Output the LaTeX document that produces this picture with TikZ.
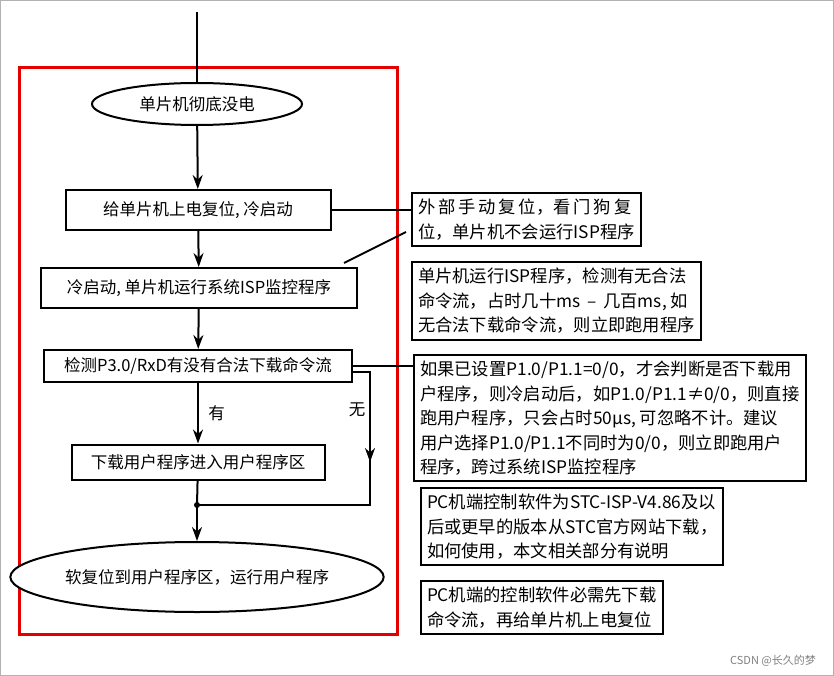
\documentclass[tikz,border=0pt]{standalone}
\usepackage{fontspec}
\setmainfont{Noto Sans CJK SC}
\usetikzlibrary{shapes.geometric,arrows.meta}
\tikzset{
  stepbox/.style={draw,line width=2pt,fill=white,inner sep=0pt,font=\fontsize{16.5}{20}\selectfont},
  notebox/.style={draw,line width=2pt,fill=white,align=left,anchor=north west,inner sep=6pt,font=\fontsize{17.3}{24.5}\selectfont},
  flow/.style={line width=2pt,-{Stealth[length=14pt,width=10pt]}},
  link/.style={line width=2pt}
}
\begin{document}
\begin{tikzpicture}[x=1pt,y=-1pt]
        \useasboundingbox (0,0) rectangle (834,676);
        \draw[gray!60] (0.5,0.5) rectangle (833.5,675.5);
        \draw[red!90!black,line width=3pt] (19,68) rectangle (397,634);
        % main flow
        \coordinate (top) at (197,12);
        \node[stepbox,ellipse,minimum width=210,minimum height=42] (off) at (197,104) {单片机彻底没电};
        \node[stepbox,minimum width=265,minimum height=40] (cold) at (198,210) {给单片机上电复位, 冷启动};
        \node[stepbox,minimum width=316,minimum height=40] (isp) at (199,288) {冷启动, 单片机运行系统ISP监控程序};
        \node[stepbox,minimum width=308,minimum height=32] (check) at (198,366) {检测P3.0/RxD有没有合法下载命令流};
        \node[stepbox,minimum width=253,minimum height=35] (load) at (198,462) {下载用户程序进入用户程序区};
        \node[stepbox,ellipse,minimum width=344,minimum height=70] (run) at (197,577) {软复位到用户程序区，运行用户程序};
        \coordinate (join) at (197,505);
        \coordinate (nobend) at (370,372);
        \coordinate (nodown) at (370,505);
        \draw[link] (top) -- (off);
        \draw[flow] (off) -- (cold);
        \draw[flow] (cold) -- (isp);
        \draw[flow] (isp) -- (check);
        \draw[flow] (check) -- node[right=6pt,font=\fontsize{16.5}{20}\selectfont] {有} (load);
        \draw[link] (load) -- (join);
        \draw[flow] (join) -- (run);
        \draw[link] (check.east |- nobend) -- (nobend) -- (nodown) -- (join);
        \draw[flow] (nobend) -- (370,462);
        \node[font=\fontsize{16.5}{20}\selectfont] (nolabel) at (357,410) {无};
        \fill (join) circle (3pt);
        % notes
        \node[notebox] (n1) at (411,192) {外\,部\,手\,动\,复\,位，看\,门\,狗\,复\\位，单片机不会运行ISP程序};
        \node[notebox] (n2) at (411,261) {单片机运行ISP程序，检测有无合法\\命令流，占时几十ms \,– \,几百ms, 如\\无合法下载命令流，则立即跑用程序};
        \node[notebox] (n3) at (413,354) {如果已设置P1.0/P1.1=0/0，才会判断是否下载用\\户程序，则冷启动后，如P1.0/P1.1≠0/0，则直接\\跑用户程序，只会占时50μs, 可忽略不计。建议\\用户选择P1.0/P1.1不同时为0/0，则立即跑用户\\程序，跨过系统ISP监控程序};
        \node[notebox] (n4) at (420,487) {PC机端控制软件为STC-ISP-V4.86及以\\后或更早的版本从STC官方网站下载，\\如何使用，本文相关部分有说明};
        \node[notebox] (n5) at (420,580) {PC机端的控制软件必需先下载\\命令流，再给单片机上电复位};
        \draw[link] (cold.east) -- (cold.east -| n1.west);
        \draw[link] (344,263) -- (406,232);
        \draw[link] (check.east) -- (check.east -| n3.west);
        \node[gray,font=\fontsize{11}{12}\selectfont] (mark) at (773,661) {CSDN @长久的梦};
\end{tikzpicture}
\end{document}
